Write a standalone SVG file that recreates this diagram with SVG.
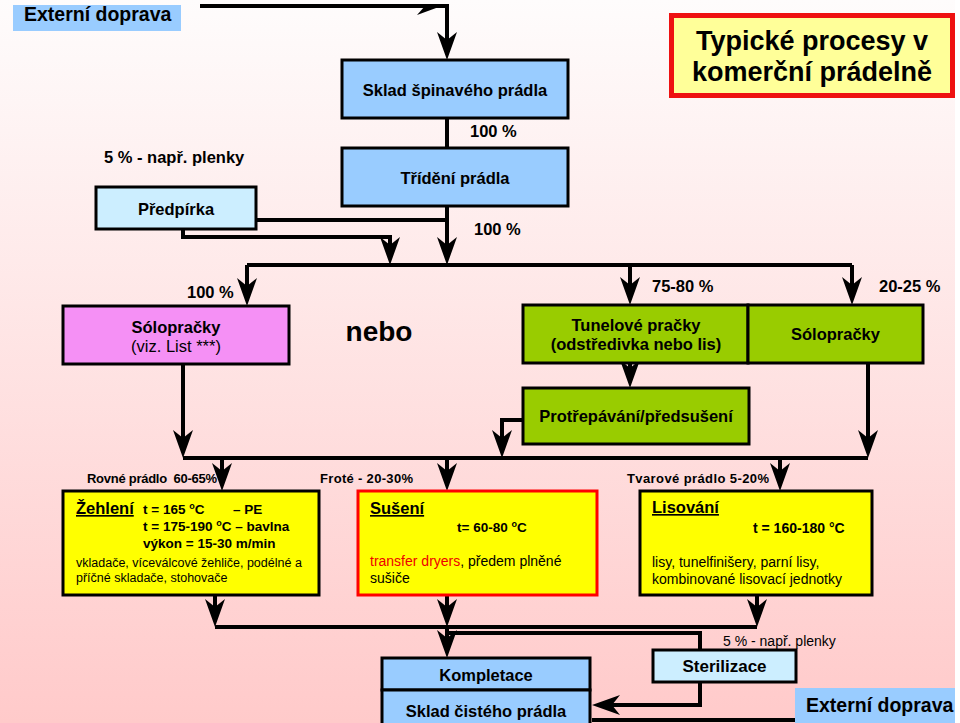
<svg xmlns="http://www.w3.org/2000/svg" width="960" height="723" viewBox="0 0 960 723">
<defs>
<linearGradient id="bg" x1="0" y1="0" x2="0" y2="1">
<stop offset="0" stop-color="#fefcfc"/>
<stop offset="1" stop-color="#ffcaca"/>
</linearGradient>
<marker id="ah" viewBox="-30 -12 32 24" markerWidth="32" markerHeight="24" refX="-12" refY="0" orient="auto" markerUnits="userSpaceOnUse">
<path d="M0,0 L-28,-10 L-20,0 L-28,10 Z" fill="#000"/>
</marker>
<style>
text{font-family:"Liberation Sans",Arial,sans-serif;fill:#000}
.b{font-weight:bold}
.l{font-size:16.5px;font-weight:bold}
.c{text-anchor:middle}
.box{stroke:#000;stroke-width:3}
.blue{fill:#99ccff}
.lblue{fill:#cceeff}
.green{fill:#99cc00}
.yellow{fill:#ffff00}
.conn path{fill:none;stroke:#000;stroke-width:4}
.conn path.a{marker-end:url(#ah)}
.s{font-size:13.5px;font-weight:bold}
.n{font-size:14px}
</style>
</defs>
<rect x="0" y="0" width="960" height="723" fill="#ffffff"/>
<rect x="0" y="0" width="955" height="723" fill="url(#bg)"/>

<g id="connectors" class="conn">
<path class="a" d="M200,6 H447 V48"/>
<polygon points="447,4 417,15 425,6" fill="#000"/>
<path d="M447,118 V148"/>
<path class="a" d="M447,206 V253"/>
<path d="M256,220 H447"/>
<path class="a" d="M183,229 V237 H390 V253"/>
<path d="M247,265 H852"/>
<path class="a" d="M247,265 V294"/>
<path class="a" d="M630,265 V293"/>
<path class="a" d="M852,265 V293"/>
<path class="a" d="M630,362 V376"/>
<path class="a" d="M523,420 H502 V446"/>
<path class="a" d="M868,363 V446"/>
<path class="a" d="M183,364 V446"/>
<path d="M183,458 H868"/>
<path class="a" d="M222,458 V479"/>
<path class="a" d="M447,458 V479"/>
<path class="a" d="M780,458 V479"/>
<path class="a" d="M215,595 V615"/>
<path class="a" d="M447,595 V615"/>
<path class="a" d="M757,595 V615"/>
<path d="M215,627 H757"/>
<path class="a" d="M447,627 V646"/>
<path d="M447,633 H700 V650"/>
<path class="a" d="M700,682 V705 H604"/>
<path d="M592,720 H878"/>
<polygon points="878,722 856,711 864,720" fill="#000"/>
</g>

<g id="externi-top">
<rect x="13" y="5" width="168" height="26" class="blue"/>
<text x="24" y="21" class="b" font-size="19.5">Externí doprava</text>
</g>

<g id="title">
<rect x="671.5" y="15.5" width="281" height="80" fill="#ffff99" stroke="#ee1111" stroke-width="5"/>
<text x="812" y="50" class="b c" font-size="27">Typické procesy v</text>
<text x="812" y="81" class="b c" font-size="27">komerční prádelně</text>
</g>

<g id="sklad-spinaveho">
<rect x="342" y="60" width="226" height="58" class="box blue"/>
<text x="455" y="96" class="l c">Sklad špinavého prádla</text>
</g>

<g id="trideni">
<rect x="342" y="148" width="226" height="58" class="box blue"/>
<text x="455" y="184" class="l c">Třídění prádla</text>
</g>

<g id="labels-top">
<text x="470" y="137" class="l">100 %</text>
<text x="104" y="163" class="l">5 % - např. plenky</text>
<text x="474" y="235" class="l">100 %</text>
<text x="187" y="298" class="l">100 %</text>
<text x="652" y="292" class="l">75-80 %</text>
<text x="879" y="292" class="l">20-25 %</text>
</g>

<g id="predpirka">
<rect x="96" y="187" width="160" height="42" class="box lblue"/>
<text x="176" y="215" class="l c">Předpírka</text>
</g>

<g id="solopracky-pink">
<rect x="63" y="306" width="226" height="58" class="box" fill="#f590f5"/>
<text x="176" y="333" class="l c">Sólopračky</text>
<text x="176" y="352" class="c" font-size="16.5">(viz. List ***)</text>
</g>

<g id="nebo">
<text x="379" y="341" class="b c" font-size="28">nebo</text>
</g>

<g id="tunelove">
<rect x="523" y="305" width="225" height="58" class="box green"/>
<text x="636" y="331" class="l c">Tunelové pračky</text>
<text x="636" y="350" class="l c">(odstředivka nebo lis)</text>
</g>

<g id="solopracky-green">
<rect x="748" y="305" width="175" height="58" class="box green"/>
<text x="835.5" y="340" class="l c">Sólopračky</text>
</g>

<g id="protrepavani">
<rect x="523" y="388" width="226" height="56" class="box green"/>
<text x="636" y="422" class="l c">Protřepávání/předsušení</text>
</g>

<g id="row-labels">
<text x="87" y="483" class="b" font-size="13" textLength="130" xml:space="preserve">Rovné prádlo  60-65%</text>
<text x="320" y="483" class="b" font-size="13" textLength="93">Froté - 20-30%</text>
<text x="627" y="483" class="b" font-size="13" textLength="142">Tvarové prádlo 5-20%</text>
</g>

<g id="zehleni">
<rect x="63" y="491" width="256" height="104" class="box yellow"/>
<text x="76" y="514" class="l" text-decoration="underline">Žehlení</text>
<text x="143" y="514" class="s">t = 165 <tspan dy="-5" font-size="9">o</tspan><tspan dy="5">C</tspan></text>
<text x="233" y="514" class="s">– PE</text>
<text x="143" y="531" class="s">t = 175-190 <tspan dy="-5" font-size="9">o</tspan><tspan dy="5">C – bavlna</tspan></text>
<text x="143" y="548" class="s">výkon = 15-30 m/min</text>
<text x="76" y="567" font-size="12.5">vkladače, víceválcové žehliče, podélné a</text>
<text x="76" y="582" font-size="12.5">příčné skladače, stohovače</text>
</g>

<g id="suseni">
<rect x="358" y="491" width="239" height="104" class="yellow" stroke="#ff0000" stroke-width="3"/>
<text x="370" y="514" class="l" text-decoration="underline">Sušení</text>
<text x="457" y="532" class="s">t= 60-80 <tspan dy="-5" font-size="9">o</tspan><tspan dy="5">C</tspan></text>
<text x="370" y="566" class="n"><tspan fill="#ee0000">transfer dryers</tspan>, předem plněné</text>
<text x="370" y="583" class="n">sušiče</text>
</g>

<g id="lisovani">
<rect x="640" y="491" width="232" height="104" class="box yellow"/>
<text x="652" y="513" class="l" text-decoration="underline">Lisování</text>
<text x="753" y="533" class="b" font-size="14">t = 160-180 °C</text>
<text x="652" y="567" class="n">lisy, tunelfinišery, parní lisy,</text>
<text x="652" y="584" class="n">kombinované lisovací jednotky</text>
</g>

<g id="kompletace">
<rect x="382" y="658" width="208" height="32" class="box blue"/>
<text x="486" y="681" class="l c">Kompletace</text>
</g>

<g id="sklad-cisteho">
<rect x="382" y="690" width="208" height="40" class="box blue"/>
<text x="486" y="717" class="l c">Sklad čistého prádla</text>
</g>

<g id="sterilizace">
<rect x="653" y="650" width="143" height="32" class="box lblue"/>
<text x="724.5" y="672" class="c b" font-size="17">Sterilizace</text>
<text x="723" y="646" class="n">5 % - např. plenky</text>
</g>

<g id="externi-bottom">
<rect x="795" y="688" width="160" height="35" class="blue"/>
<text x="806" y="712" class="b" font-size="19.5">Externí doprava</text>
</g>
</svg>
